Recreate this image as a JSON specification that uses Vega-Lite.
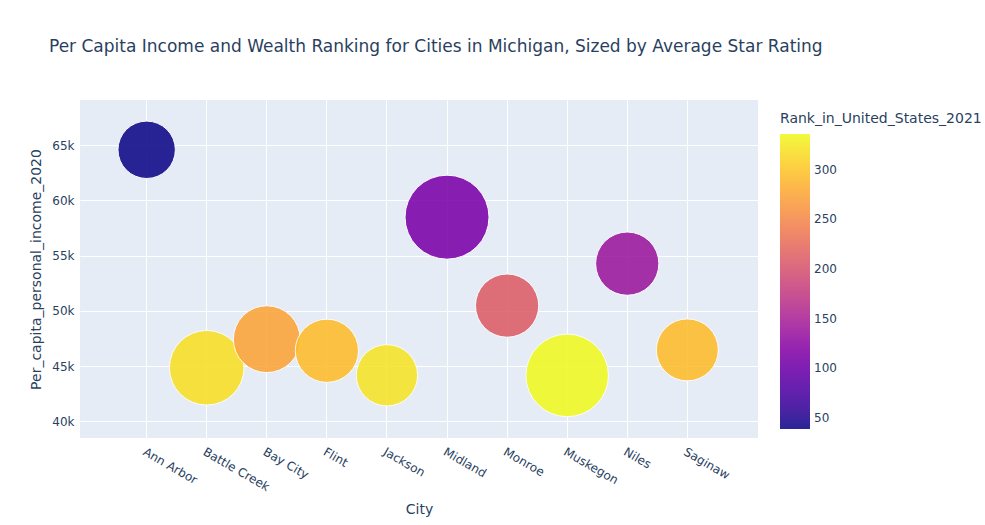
{
  "$schema": "https://vega.github.io/schema/vega-lite/v6.json",
  "width": 678,
  "height": 338,
  "autosize": {"type": "none"},
  "padding": {"left": 80, "top": 100, "right": 227, "bottom": 87},
  "background": "white",
  "title": {
    "text": "Per Capita Income and Wealth Ranking for Cities in Michigan, Sized by Average Star Rating",
    "anchor": "start",
    "frame": "group",
    "dx": -31,
    "offset": 44,
    "fontSize": 17,
    "font": "DejaVu Sans",
    "fontWeight": "normal",
    "color": "#2a3f5f"
  },
  "data": {
    "values": [
      {"City": "Ann Arbor", "Per_capita_personal_income_2020": 64590, "Rank_in_United_States_2021": 39, "Average_Star_Rating": 2.1},
      {"City": "Battle Creek", "Per_capita_personal_income_2020": 44850, "Rank_in_United_States_2021": 318, "Average_Star_Rating": 3.55},
      {"City": "Bay City", "Per_capita_personal_income_2020": 47440, "Rank_in_United_States_2021": 275, "Average_Star_Rating": 2.85},
      {"City": "Flint", "Per_capita_personal_income_2020": 46390, "Rank_in_United_States_2021": 293, "Average_Star_Rating": 2.55},
      {"City": "Jackson", "Per_capita_personal_income_2020": 44170, "Rank_in_United_States_2021": 322, "Average_Star_Rating": 2.4},
      {"City": "Midland", "Per_capita_personal_income_2020": 58490, "Rank_in_United_States_2021": 112, "Average_Star_Rating": 4.5},
      {"City": "Monroe", "Per_capita_personal_income_2020": 50480, "Rank_in_United_States_2021": 210, "Average_Star_Rating": 2.55},
      {"City": "Muskegon", "Per_capita_personal_income_2020": 44160, "Rank_in_United_States_2021": 336, "Average_Star_Rating": 4.35},
      {"City": "Niles", "Per_capita_personal_income_2020": 54280, "Rank_in_United_States_2021": 138, "Average_Star_Rating": 2.55},
      {"City": "Saginaw", "Per_capita_personal_income_2020": 46470, "Rank_in_United_States_2021": 293, "Average_Star_Rating": 2.45}
    ]
  },
  "mark": {"type": "circle", "opacity": 0.88, "stroke": "white", "strokeWidth": 1},
  "encoding": {
    "x": {
      "field": "City",
      "type": "nominal",
      "sort": null,
      "scale": {"type": "band", "paddingInner": 0, "paddingOuter": 0.643, "align": 0.474},
      "axis": {
        "title": "City",
        "grid": true,
        "gridColor": "white",
        "gridWidth": 1,
        "domain": false,
        "ticks": false,
        "labelAngle": 30,
        "labelAlign": "left",
        "labelBaseline": "top",
        "labelPadding": 8,
        "labelFontSize": 12,
        "labelColor": "#2a3f5f",
        "titleFontSize": 14,
        "titleColor": "#2a3f5f",
        "titlePadding": 10
      }
    },
    "y": {
      "field": "Per_capita_personal_income_2020",
      "type": "quantitative",
      "scale": {"domain": [38490, 69100], "nice": false, "zero": false},
      "axis": {
        "title": "Per_capita_personal_income_2020",
        "values": [40000, 45000, 50000, 55000, 60000, 65000],
        "labelExpr": "datum.value / 1000 + 'k'",
        "grid": true,
        "gridColor": "white",
        "gridWidth": 1,
        "domain": false,
        "ticks": false,
        "labelPadding": 6,
        "labelFontSize": 12,
        "labelColor": "#2a3f5f",
        "titleFontSize": 14,
        "titleColor": "#2a3f5f",
        "titlePadding": 8
      }
    },
    "color": {
      "field": "Rank_in_United_States_2021",
      "type": "quantitative",
      "scale": {"scheme": "plasma", "domain": [39, 336]},
      "legend": {
        "orient": "none",
        "legendX": 700,
        "legendY": 12,
        "direction": "vertical",
        "gradientLength": 295,
        "gradientThickness": 30,
        "gradientStrokeWidth": 0,
        "values": [50, 100, 150, 200, 250, 300],
        "labelOverlap": false,
        "title": "Rank_in_United_States_2021",
        "titleFontSize": 14,
        "titleFont": "DejaVu Sans",
        "titleFontWeight": "normal",
        "titleColor": "#2a3f5f",
        "titlePadding": 8,
        "titleLimit": 400,
        "labelFontSize": 12,
        "labelFont": "DejaVu Sans",
        "labelColor": "#2a3f5f",
        "labelOffset": 4
      }
    },
    "size": {
      "field": "Average_Star_Rating",
      "type": "quantitative",
      "scale": {"domain": [0, 4.5], "range": [0, 7056]},
      "legend": null
    }
  },
  "config": {
    "view": {"stroke": null, "fill": "#e5ecf6"},
    "axis": {"labelFont": "DejaVu Sans", "titleFont": "DejaVu Sans", "titleFontWeight": "normal"}
  }
}
